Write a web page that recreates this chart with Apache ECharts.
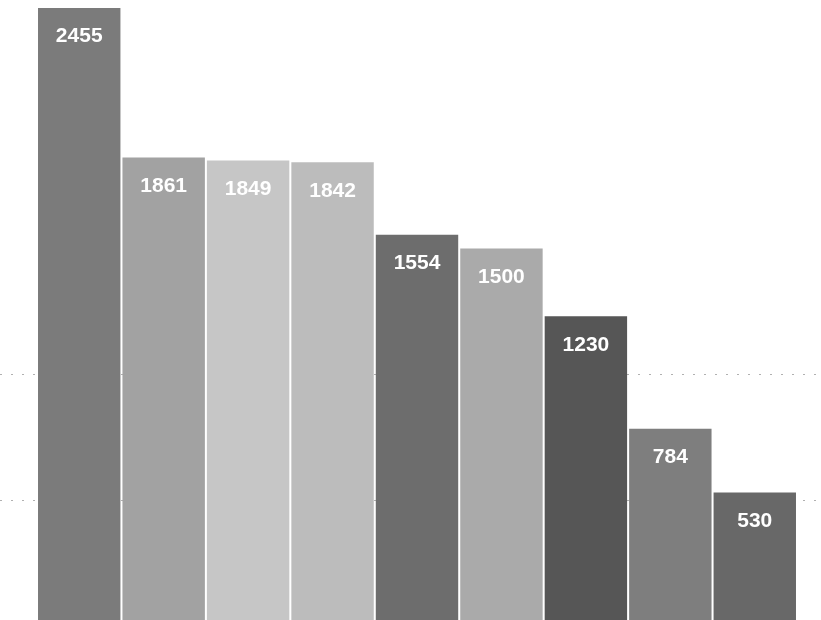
<!DOCTYPE html>
<html>
<head>
<meta charset="utf-8">
<script src="https://cdn.jsdelivr.net/npm/echarts@6/dist/echarts.min.js"></script>
<style>html,body{margin:0;padding:0;background:#fff;overflow:hidden;}#c{width:821px;height:626px;}</style>
</head>
<body>
<div id="c"></div>
<script>
var categories = ['1', '2', '3', '4', '5', '6', '7', '8', '9'];
var values = [2455, 1861, 1849, 1842, 1554, 1500, 1230, 784, 530];
var barColors = ['#7b7b7b', '#a2a2a2', '#c6c6c6', '#bcbcbc', '#6d6d6d', '#aaaaaa', '#565656', '#7e7e7e', '#686868'];
var gridValues = [500, 1000];

var chart = echarts.init(document.getElementById('c'), null, {renderer: 'canvas'});
chart.setOption({
  animation: false,
  backgroundColor: '#ffffff',
  grid: {left: 37, right: 24, top: 8, bottom: 0, containLabel: false},
  xAxis: {
    type: 'category',
    data: categories,
    axisLine: {show: false},
    axisTick: {show: false},
    axisLabel: {show: false}
  },
  yAxis: {
    type: 'value',
    min: 0,
    max: 2455,
    axisLine: {show: false},
    axisTick: {show: false},
    axisLabel: {show: false},
    splitLine: {show: false}
  },
  series: [{
    type: 'bar',
    barCategoryGap: '2.4%',
    data: values.map(function (v, i) {
      return {value: v, itemStyle: {color: barColors[i]}};
    }),
    label: {
      show: true,
      position: 'insideTop',
      distance: 18,
      color: '#ffffff',
      fontFamily: 'Liberation Sans',
      fontWeight: 'bold',
      fontSize: 21
    },
    markLine: {
      z: 1,
      silent: true,
      symbol: ['none', 'none'],
      label: {show: false},
      lineStyle: {color: '#b0b0b0', type: [2, 9], width: 1},
      data: gridValues.map(function (g) { return [{x: 0, yAxis: g}, {x: 821, yAxis: g}]; })
    }
  }]
});
</script>
</body>
</html>
